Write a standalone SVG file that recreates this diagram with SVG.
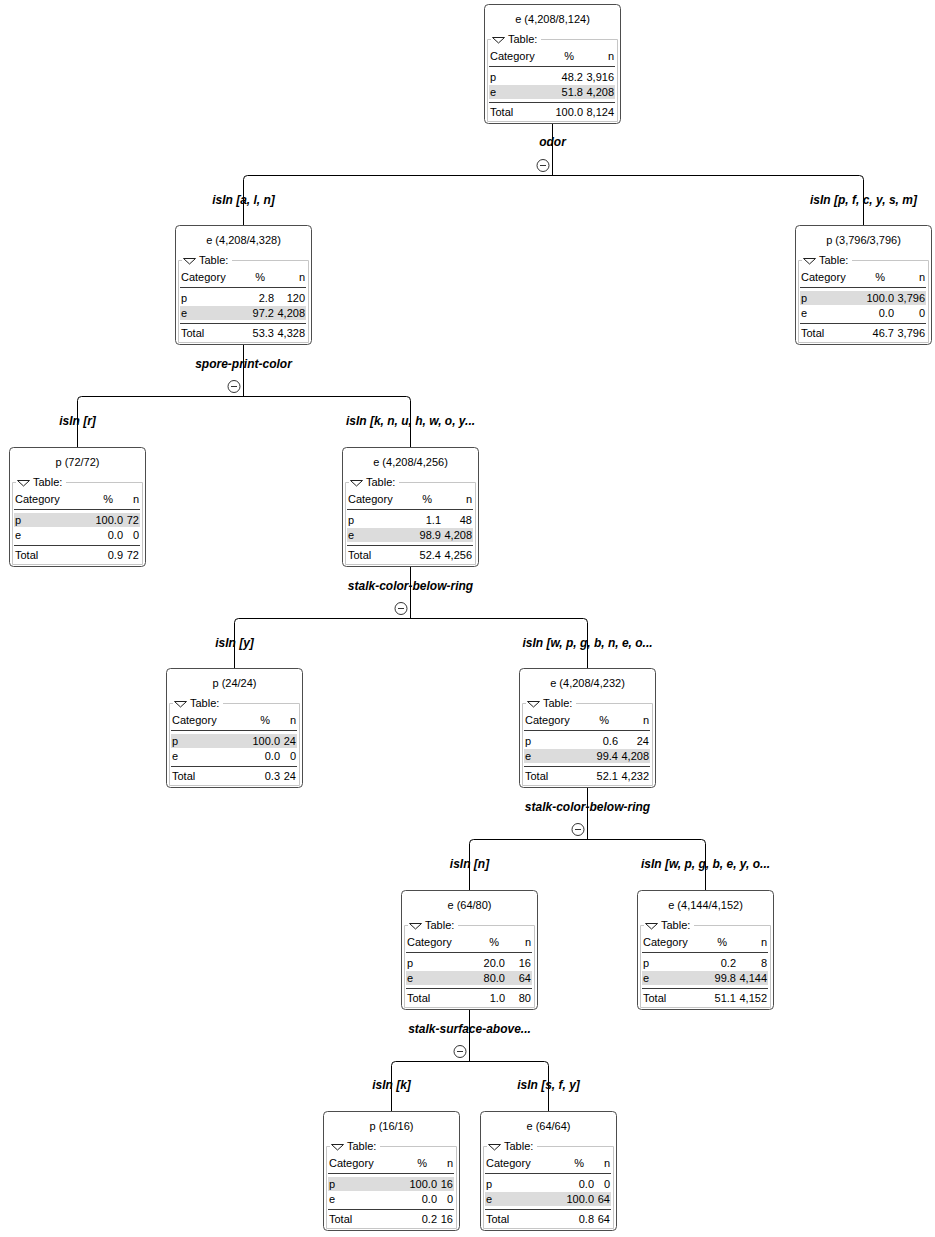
<svg xmlns="http://www.w3.org/2000/svg" width="935" height="1237" viewBox="0 0 935 1237">
  <style>
    .box { fill: #ffffff; stroke: #4d4d4d; stroke-width: 1; }
    .grp { fill: none; stroke: #c6c6c6; stroke-width: 1; }
    .hl { fill: #dcdcdc; }
    .rule { stroke: #3a3a3a; stroke-width: 1; }
    .tri { fill: none; stroke: #202020; stroke-width: 1; }
    .t { font-family: "Liberation Sans", Arial, sans-serif; font-size: 11px; fill: #000; }
    .r { text-anchor: end; }
    .c { text-anchor: middle; }
    .lbl { font-family: "Liberation Sans", Arial, sans-serif; font-size: 12px; font-weight: bold; font-style: italic; fill: #000; text-anchor: middle; }
    #connectors path { fill: none; stroke: #000; stroke-width: 1; }
    .tog circle { fill: #fff; stroke: #333; stroke-width: 1; }
    .tog line { stroke: #333; stroke-width: 1; }
  </style>

  <!-- edges: parent drop, branch bar with rounded corners, child drops -->
  <g id="connectors">
    <path d="M552.5,124 V175.5"/>
    <path d="M243.5,225 V179.5 A4,4 0 0 1 247.5,175.5 H859.5 A4,4 0 0 1 863.5,179.5 V225"/>

    <path d="M243.5,345 V396.5"/>
    <path d="M77.5,447 V400.5 A4,4 0 0 1 81.5,396.5 H406.5 A4,4 0 0 1 410.5,400.5 V447"/>

    <path d="M410.5,567 V618.5"/>
    <path d="M234.5,668 V622.5 A4,4 0 0 1 238.5,618.5 H583.5 A4,4 0 0 1 587.5,622.5 V668"/>

    <path d="M587.5,788 V839.5"/>
    <path d="M469.5,890 V843.5 A4,4 0 0 1 473.5,839.5 H701.5 A4,4 0 0 1 705.5,843.5 V890"/>

    <path d="M469.5,1010 V1061.5"/>
    <path d="M391.5,1111 V1065.5 A4,4 0 0 1 395.5,1061.5 H544.5 A4,4 0 0 1 548.5,1065.5 V1111"/>
  </g>

  <!-- split attributes, collapse toggles and branch conditions -->
  <g id="edge-labels">
    <text class="lbl" x="552.5" y="146">odor</text>
    <g class="tog"><circle cx="543" cy="165.5" r="6"/><line x1="540" y1="165.5" x2="546" y2="165.5"/></g>
    <text class="lbl" x="243.5" y="204">isIn [a, l, n]</text>
    <text class="lbl" x="863.5" y="204">isIn [p, f, c, y, s, m]</text>

    <text class="lbl" x="243.5" y="368">spore-print-color</text>
    <g class="tog"><circle cx="234" cy="386.5" r="6"/><line x1="231" y1="386.5" x2="237" y2="386.5"/></g>
    <text class="lbl" x="77.5" y="425">isIn [r]</text>
    <text class="lbl" x="410.5" y="425">isIn [k, n, u, h, w, o, y...</text>

    <text class="lbl" x="410.5" y="590">stalk-color-below-ring</text>
    <g class="tog"><circle cx="401" cy="608.5" r="6"/><line x1="398" y1="608.5" x2="404" y2="608.5"/></g>
    <text class="lbl" x="234.5" y="647">isIn [y]</text>
    <text class="lbl" x="587.5" y="647">isIn [w, p, g, b, n, e, o...</text>

    <text class="lbl" x="587.5" y="811">stalk-color-below-ring</text>
    <g class="tog"><circle cx="578" cy="829.5" r="6"/><line x1="575" y1="829.5" x2="581" y2="829.5"/></g>
    <text class="lbl" x="469.5" y="868">isIn [n]</text>
    <text class="lbl" x="705.5" y="868">isIn [w, p, g, b, e, y, o...</text>

    <text class="lbl" x="469.5" y="1033">stalk-surface-above...</text>
    <g class="tog"><circle cx="460" cy="1051.5" r="6"/><line x1="457" y1="1051.5" x2="463" y2="1051.5"/></g>
    <text class="lbl" x="391.5" y="1089">isIn [k]</text>
    <text class="lbl" x="548.5" y="1089">isIn [s, f, y]</text>
  </g>

  <!-- root -->
  <g id="node-root" transform="translate(484,4)">
    <rect class="box" x="0.5" y="0.5" width="136" height="119" rx="4"/>
    <text class="t c" x="68.5" y="19">e (4,208/8,124)</text>
    <path class="grp" d="M7,35.5 H3.5 V117.5 H133.5 V35.5 H57"/>
    <polygon class="tri" points="8.5,33.5 20.5,33.5 14.5,39"/>
    <text class="t" x="24" y="39">Table:</text>
    <text class="t" x="6" y="56">Category</text>
    <text class="t r" x="90" y="56">%</text>
    <text class="t r" x="130" y="56">n</text>
    <line class="rule" x1="5" y1="62.5" x2="131" y2="62.5"/>
    <rect class="hl" x="5" y="81" width="126" height="14"/>
    <text class="t" x="6" y="77">p</text><text class="t r" x="99" y="77">48.2</text><text class="t r" x="130" y="77">3,916</text>
    <text class="t" x="6" y="92">e</text><text class="t r" x="99" y="92">51.8</text><text class="t r" x="130" y="92">4,208</text>
    <line class="rule" x1="5" y1="98.5" x2="131" y2="98.5"/>
    <text class="t" x="6" y="112">Total</text><text class="t r" x="99" y="112">100.0</text><text class="t r" x="130" y="112">8,124</text>
  </g>

  <!-- odor in {a, l, n} -->
  <g id="node-odor-aln" transform="translate(175,225)">
    <rect class="box" x="0.5" y="0.5" width="136" height="119" rx="4"/>
    <text class="t c" x="68.5" y="19">e (4,208/4,328)</text>
    <path class="grp" d="M7,35.5 H3.5 V117.5 H133.5 V35.5 H57"/>
    <polygon class="tri" points="8.5,33.5 20.5,33.5 14.5,39"/>
    <text class="t" x="24" y="39">Table:</text>
    <text class="t" x="6" y="56">Category</text>
    <text class="t r" x="90" y="56">%</text>
    <text class="t r" x="130" y="56">n</text>
    <line class="rule" x1="5" y1="62.5" x2="131" y2="62.5"/>
    <rect class="hl" x="5" y="81" width="126" height="14"/>
    <text class="t" x="6" y="77">p</text><text class="t r" x="99" y="77">2.8</text><text class="t r" x="130" y="77">120</text>
    <text class="t" x="6" y="92">e</text><text class="t r" x="99" y="92">97.2</text><text class="t r" x="130" y="92">4,208</text>
    <line class="rule" x1="5" y1="98.5" x2="131" y2="98.5"/>
    <text class="t" x="6" y="112">Total</text><text class="t r" x="99" y="112">53.3</text><text class="t r" x="130" y="112">4,328</text>
  </g>

  <!-- odor in {p, f, c, y, s, m} -->
  <g id="node-odor-pfcysm" transform="translate(795,225)">
    <rect class="box" x="0.5" y="0.5" width="136" height="119" rx="4"/>
    <text class="t c" x="68.5" y="19">p (3,796/3,796)</text>
    <path class="grp" d="M7,35.5 H3.5 V117.5 H133.5 V35.5 H57"/>
    <polygon class="tri" points="8.5,33.5 20.5,33.5 14.5,39"/>
    <text class="t" x="24" y="39">Table:</text>
    <text class="t" x="6" y="56">Category</text>
    <text class="t r" x="90" y="56">%</text>
    <text class="t r" x="130" y="56">n</text>
    <line class="rule" x1="5" y1="62.5" x2="131" y2="62.5"/>
    <rect class="hl" x="5" y="66" width="126" height="14"/>
    <text class="t" x="6" y="77">p</text><text class="t r" x="99" y="77">100.0</text><text class="t r" x="130" y="77">3,796</text>
    <text class="t" x="6" y="92">e</text><text class="t r" x="99" y="92">0.0</text><text class="t r" x="130" y="92">0</text>
    <line class="rule" x1="5" y1="98.5" x2="131" y2="98.5"/>
    <text class="t" x="6" y="112">Total</text><text class="t r" x="99" y="112">46.7</text><text class="t r" x="130" y="112">3,796</text>
  </g>

  <!-- spore-print-color in {r} -->
  <g id="node-spore-r" transform="translate(9,447)">
    <rect class="box" x="0.5" y="0.5" width="136" height="119" rx="4"/>
    <text class="t c" x="68.5" y="19">p (72/72)</text>
    <path class="grp" d="M7,35.5 H3.5 V117.5 H133.5 V35.5 H57"/>
    <polygon class="tri" points="8.5,33.5 20.5,33.5 14.5,39"/>
    <text class="t" x="24" y="39">Table:</text>
    <text class="t" x="6" y="56">Category</text>
    <text class="t r" x="104" y="56">%</text>
    <text class="t r" x="130" y="56">n</text>
    <line class="rule" x1="5" y1="62.5" x2="131" y2="62.5"/>
    <rect class="hl" x="5" y="66" width="126" height="14"/>
    <text class="t" x="6" y="77">p</text><text class="t r" x="114" y="77">100.0</text><text class="t r" x="130" y="77">72</text>
    <text class="t" x="6" y="92">e</text><text class="t r" x="114" y="92">0.0</text><text class="t r" x="130" y="92">0</text>
    <line class="rule" x1="5" y1="98.5" x2="131" y2="98.5"/>
    <text class="t" x="6" y="112">Total</text><text class="t r" x="114" y="112">0.9</text><text class="t r" x="130" y="112">72</text>
  </g>

  <!-- spore-print-color in {k, n, u, h, w, o, y, ...} -->
  <g id="node-spore-knuhwoy" transform="translate(342,447)">
    <rect class="box" x="0.5" y="0.5" width="136" height="119" rx="4"/>
    <text class="t c" x="68.5" y="19">e (4,208/4,256)</text>
    <path class="grp" d="M7,35.5 H3.5 V117.5 H133.5 V35.5 H57"/>
    <polygon class="tri" points="8.5,33.5 20.5,33.5 14.5,39"/>
    <text class="t" x="24" y="39">Table:</text>
    <text class="t" x="6" y="56">Category</text>
    <text class="t r" x="90" y="56">%</text>
    <text class="t r" x="130" y="56">n</text>
    <line class="rule" x1="5" y1="62.5" x2="131" y2="62.5"/>
    <rect class="hl" x="5" y="81" width="126" height="14"/>
    <text class="t" x="6" y="77">p</text><text class="t r" x="99" y="77">1.1</text><text class="t r" x="130" y="77">48</text>
    <text class="t" x="6" y="92">e</text><text class="t r" x="99" y="92">98.9</text><text class="t r" x="130" y="92">4,208</text>
    <line class="rule" x1="5" y1="98.5" x2="131" y2="98.5"/>
    <text class="t" x="6" y="112">Total</text><text class="t r" x="99" y="112">52.4</text><text class="t r" x="130" y="112">4,256</text>
  </g>

  <!-- stalk-color-below-ring in {y} -->
  <g id="node-stalk-y" transform="translate(166,668)">
    <rect class="box" x="0.5" y="0.5" width="136" height="119" rx="4"/>
    <text class="t c" x="68.5" y="19">p (24/24)</text>
    <path class="grp" d="M7,35.5 H3.5 V117.5 H133.5 V35.5 H57"/>
    <polygon class="tri" points="8.5,33.5 20.5,33.5 14.5,39"/>
    <text class="t" x="24" y="39">Table:</text>
    <text class="t" x="6" y="56">Category</text>
    <text class="t r" x="104" y="56">%</text>
    <text class="t r" x="130" y="56">n</text>
    <line class="rule" x1="5" y1="62.5" x2="131" y2="62.5"/>
    <rect class="hl" x="5" y="66" width="126" height="14"/>
    <text class="t" x="6" y="77">p</text><text class="t r" x="114" y="77">100.0</text><text class="t r" x="130" y="77">24</text>
    <text class="t" x="6" y="92">e</text><text class="t r" x="114" y="92">0.0</text><text class="t r" x="130" y="92">0</text>
    <line class="rule" x1="5" y1="98.5" x2="131" y2="98.5"/>
    <text class="t" x="6" y="112">Total</text><text class="t r" x="114" y="112">0.3</text><text class="t r" x="130" y="112">24</text>
  </g>

  <!-- stalk-color-below-ring in {w, p, g, b, n, e, o, ...} -->
  <g id="node-stalk-wpgbneo" transform="translate(519,668)">
    <rect class="box" x="0.5" y="0.5" width="136" height="119" rx="4"/>
    <text class="t c" x="68.5" y="19">e (4,208/4,232)</text>
    <path class="grp" d="M7,35.5 H3.5 V117.5 H133.5 V35.5 H57"/>
    <polygon class="tri" points="8.5,33.5 20.5,33.5 14.5,39"/>
    <text class="t" x="24" y="39">Table:</text>
    <text class="t" x="6" y="56">Category</text>
    <text class="t r" x="90" y="56">%</text>
    <text class="t r" x="130" y="56">n</text>
    <line class="rule" x1="5" y1="62.5" x2="131" y2="62.5"/>
    <rect class="hl" x="5" y="81" width="126" height="14"/>
    <text class="t" x="6" y="77">p</text><text class="t r" x="99" y="77">0.6</text><text class="t r" x="130" y="77">24</text>
    <text class="t" x="6" y="92">e</text><text class="t r" x="99" y="92">99.4</text><text class="t r" x="130" y="92">4,208</text>
    <line class="rule" x1="5" y1="98.5" x2="131" y2="98.5"/>
    <text class="t" x="6" y="112">Total</text><text class="t r" x="99" y="112">52.1</text><text class="t r" x="130" y="112">4,232</text>
  </g>

  <!-- stalk-color-below-ring in {n} -->
  <g id="node-stalk-n" transform="translate(401,890)">
    <rect class="box" x="0.5" y="0.5" width="136" height="119" rx="4"/>
    <text class="t c" x="68.5" y="19">e (64/80)</text>
    <path class="grp" d="M7,35.5 H3.5 V117.5 H133.5 V35.5 H57"/>
    <polygon class="tri" points="8.5,33.5 20.5,33.5 14.5,39"/>
    <text class="t" x="24" y="39">Table:</text>
    <text class="t" x="6" y="56">Category</text>
    <text class="t r" x="98" y="56">%</text>
    <text class="t r" x="130" y="56">n</text>
    <line class="rule" x1="5" y1="62.5" x2="131" y2="62.5"/>
    <rect class="hl" x="5" y="81" width="126" height="14"/>
    <text class="t" x="6" y="77">p</text><text class="t r" x="104" y="77">20.0</text><text class="t r" x="130" y="77">16</text>
    <text class="t" x="6" y="92">e</text><text class="t r" x="104" y="92">80.0</text><text class="t r" x="130" y="92">64</text>
    <line class="rule" x1="5" y1="98.5" x2="131" y2="98.5"/>
    <text class="t" x="6" y="112">Total</text><text class="t r" x="104" y="112">1.0</text><text class="t r" x="130" y="112">80</text>
  </g>

  <!-- stalk-color-below-ring in {w, p, g, b, e, y, o, ...} -->
  <g id="node-stalk-wpgbeyo" transform="translate(637,890)">
    <rect class="box" x="0.5" y="0.5" width="136" height="119" rx="4"/>
    <text class="t c" x="68.5" y="19">e (4,144/4,152)</text>
    <path class="grp" d="M7,35.5 H3.5 V117.5 H133.5 V35.5 H57"/>
    <polygon class="tri" points="8.5,33.5 20.5,33.5 14.5,39"/>
    <text class="t" x="24" y="39">Table:</text>
    <text class="t" x="6" y="56">Category</text>
    <text class="t r" x="90" y="56">%</text>
    <text class="t r" x="130" y="56">n</text>
    <line class="rule" x1="5" y1="62.5" x2="131" y2="62.5"/>
    <rect class="hl" x="5" y="81" width="126" height="14"/>
    <text class="t" x="6" y="77">p</text><text class="t r" x="99" y="77">0.2</text><text class="t r" x="130" y="77">8</text>
    <text class="t" x="6" y="92">e</text><text class="t r" x="99" y="92">99.8</text><text class="t r" x="130" y="92">4,144</text>
    <line class="rule" x1="5" y1="98.5" x2="131" y2="98.5"/>
    <text class="t" x="6" y="112">Total</text><text class="t r" x="99" y="112">51.1</text><text class="t r" x="130" y="112">4,152</text>
  </g>

  <!-- stalk-surface-above-ring in {k} -->
  <g id="node-surface-k" transform="translate(323,1111)">
    <rect class="box" x="0.5" y="0.5" width="136" height="119" rx="4"/>
    <text class="t c" x="68.5" y="19">p (16/16)</text>
    <path class="grp" d="M7,35.5 H3.5 V117.5 H133.5 V35.5 H57"/>
    <polygon class="tri" points="8.5,33.5 20.5,33.5 14.5,39"/>
    <text class="t" x="24" y="39">Table:</text>
    <text class="t" x="6" y="56">Category</text>
    <text class="t r" x="104" y="56">%</text>
    <text class="t r" x="130" y="56">n</text>
    <line class="rule" x1="5" y1="62.5" x2="131" y2="62.5"/>
    <rect class="hl" x="5" y="66" width="126" height="14"/>
    <text class="t" x="6" y="77">p</text><text class="t r" x="114" y="77">100.0</text><text class="t r" x="130" y="77">16</text>
    <text class="t" x="6" y="92">e</text><text class="t r" x="114" y="92">0.0</text><text class="t r" x="130" y="92">0</text>
    <line class="rule" x1="5" y1="98.5" x2="131" y2="98.5"/>
    <text class="t" x="6" y="112">Total</text><text class="t r" x="114" y="112">0.2</text><text class="t r" x="130" y="112">16</text>
  </g>

  <!-- stalk-surface-above-ring in {s, f, y} -->
  <g id="node-surface-sfy" transform="translate(480,1111)">
    <rect class="box" x="0.5" y="0.5" width="136" height="119" rx="4"/>
    <text class="t c" x="68.5" y="19">e (64/64)</text>
    <path class="grp" d="M7,35.5 H3.5 V117.5 H133.5 V35.5 H57"/>
    <polygon class="tri" points="8.5,33.5 20.5,33.5 14.5,39"/>
    <text class="t" x="24" y="39">Table:</text>
    <text class="t" x="6" y="56">Category</text>
    <text class="t r" x="104" y="56">%</text>
    <text class="t r" x="130" y="56">n</text>
    <line class="rule" x1="5" y1="62.5" x2="131" y2="62.5"/>
    <rect class="hl" x="5" y="81" width="126" height="14"/>
    <text class="t" x="6" y="77">p</text><text class="t r" x="114" y="77">0.0</text><text class="t r" x="130" y="77">0</text>
    <text class="t" x="6" y="92">e</text><text class="t r" x="114" y="92">100.0</text><text class="t r" x="130" y="92">64</text>
    <line class="rule" x1="5" y1="98.5" x2="131" y2="98.5"/>
    <text class="t" x="6" y="112">Total</text><text class="t r" x="114" y="112">0.8</text><text class="t r" x="130" y="112">64</text>
  </g>
</svg>
